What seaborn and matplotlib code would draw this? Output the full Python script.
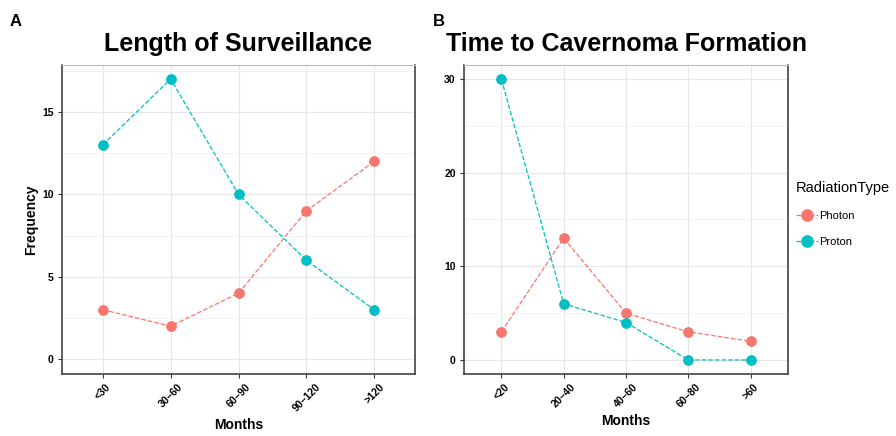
import matplotlib
matplotlib.use("Agg")
import matplotlib.pyplot as plt
import seaborn as sns
import pandas as pd
from matplotlib.ticker import MultipleLocator

# data
surv_cats = ["<30", "30\u201360", "60\u201390", "90\u2013120", ">120"]
surv_photon = [3, 2, 4, 9, 12]
surv_proton = [13, 17, 10, 6, 3]

cav_cats = ["<20", "20\u201340", "40\u201360", "60\u201380", ">60"]
cav_photon = [3, 13, 5, 3, 2]
cav_proton = [30, 6, 4, 0, 0]

types = ["Photon", "Proton"]
pal = {"Photon": "#F8766D", "Proton": "#00BFC4"}

sns.set_theme(style="white")
plt.rcParams["font.family"] = ["Liberation Sans", "DejaVu Sans"]
plt.rcParams["text.color"] = "black"
plt.rcParams["axes.labelcolor"] = "black"
plt.rcParams["xtick.labelcolor"] = "black"
plt.rcParams["ytick.labelcolor"] = "black"


def make_df(cats, photon, proton):
    return pd.DataFrame({
        "Months": cats * 2,
        "Frequency": photon + proton,
        "RadiationType": ["Photon"] * len(cats) + ["Proton"] * len(cats),
    })


def style_ax(ax, major, ylim):
    ax.set_xlim(-0.6, 4.6)
    ax.set_ylim(*ylim)
    ax.yaxis.set_major_locator(MultipleLocator(major))
    ax.yaxis.set_minor_locator(MultipleLocator(major / 2))
    ax.grid(which="major", color="#e6e6e6", lw=0.8)
    ax.grid(which="minor", axis="y", color="#f0f0f0", lw=0.6)
    ax.set_axisbelow(True)
    for s in ["left", "bottom", "right"]:
        ax.spines[s].set_color("#333333")
        ax.spines[s].set_linewidth(1.1)
    ax.spines["top"].set_color("#bbbbbb")
    ax.spines["top"].set_linewidth(0.8)
    ax.tick_params(which="major", direction="out", length=3, width=0.8,
                   color="#333333", labelsize=7.5, pad=3,
                   bottom=True, left=True)
    ax.tick_params(which="minor", length=0)
    for lab in ax.get_yticklabels():
        lab.set_fontweight("bold")
    for lab in ax.get_xticklabels():
        lab.set_fontweight("bold")
        lab.set_rotation(45)
        lab.set_ha("center")
        lab.set_va("top")
    ax.set_xlabel("Months", fontsize=10, fontweight="bold", labelpad=3)


fig = plt.figure(figsize=(8.96, 4.36), dpi=100)
ax1 = fig.add_axes([62 / 896, 62 / 436, 353 / 896, 309 / 436])
ax2 = fig.add_axes([464 / 896, 62 / 436, 324 / 896, 309 / 436])

df1 = make_df(surv_cats, surv_photon, surv_proton)
df2 = make_df(cav_cats, cav_photon, cav_proton)

for ax, df, leg in [(ax1, df1, False), (ax2, df2, True)]:
    sns.pointplot(data=df, x="Months", y="Frequency", hue="RadiationType",
                  hue_order=types, palette=pal, markers="o", linestyles="--",
                  markersize=7, linewidth=0.9, errorbar=None, ax=ax,
                  legend=leg)

style_ax(ax1, 5, (-0.9, 17.85))
style_ax(ax2, 10, (-1.5, 31.5))
ax1.set_ylabel("Frequency", fontsize=10, fontweight="bold", labelpad=3)
ax2.set_ylabel("")

ax1.set_title("Length of Surveillance", fontsize=18, fontweight="bold", pad=10)
ax2.set_title("Time to Cavernoma Formation", fontsize=18, fontweight="bold", pad=10)

fig.text(10 / 896, 1 - 22 / 436, "A", fontsize=12, fontweight="bold", va="center")
fig.text(433 / 896, 1 - 22 / 436, "B", fontsize=12, fontweight="bold", va="center")

sns.move_legend(ax2, "upper left", bbox_to_anchor=(1.0, 0.65), frameon=False,
                title="RadiationType", fontsize=8, title_fontsize=10.5,
                handlelength=2.0, handletextpad=0.1, labelspacing=1.45,
                markerscale=1.2, alignment="left", borderaxespad=0.3)

fig.savefig("out.png", dpi=100)
